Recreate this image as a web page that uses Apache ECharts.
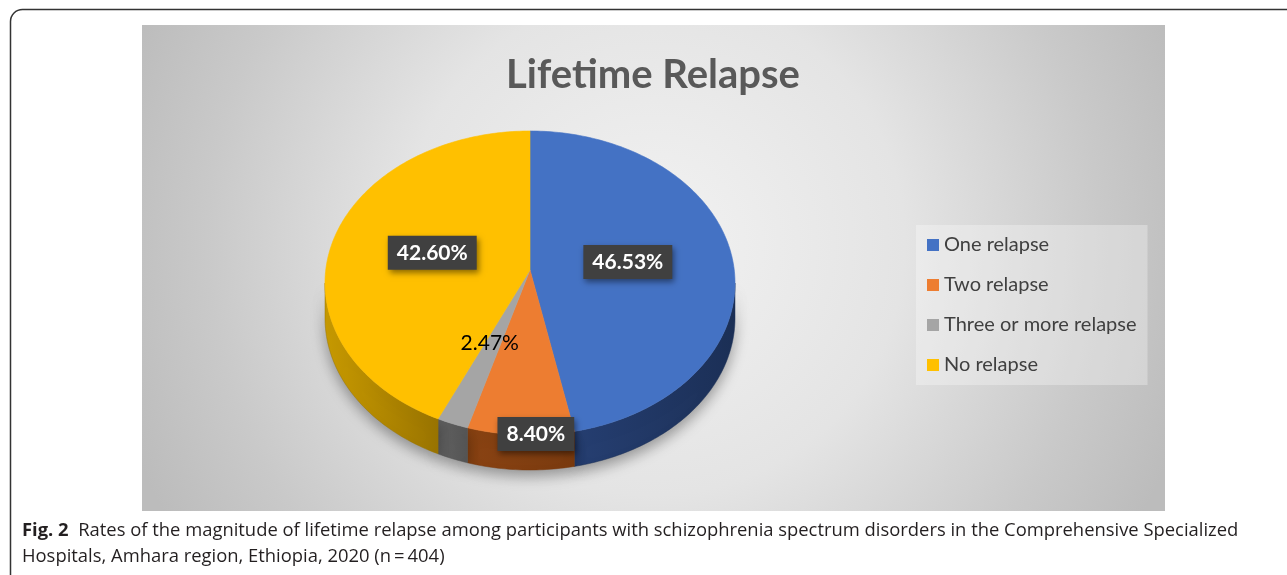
<!DOCTYPE html>
<html>
<head>
<meta charset="utf-8">
<script src="https://cdn.jsdelivr.net/npm/echarts@6/dist/echarts.min.js"></script>
<style>
html,body{margin:0;padding:0;background:#fff;}
#chart{width:1287px;height:575px;}
</style>
</head>
<body>
<div id="chart"></div>
<script>
// ---- data ----
const categories = ['One relapse', 'Two relapse', 'Three or more relapse', 'No relapse'];
const values = [46.53, 8.40, 2.47, 42.60];
const titleText = 'Lifetime Relapse';
const captionBold = 'Fig. 2';
const captionLine1 = 'Rates of the magnitude of lifetime relapse among participants with schizophrenia spectrum disorders in the Comprehensive Specialized';
const captionLine2 = 'Hospitals, Amhara region, Ethiopia, 2020 (n\u2009=\u2009404)';

// ---- styles ----
const topColors = ['#4472c4', '#ed7d31', '#a5a5a5', '#ffc000'];
const sideColors = [['#263f72', '#1c3057'], ['#8a4313', '#7a3a0e'], ['#626262', '#555555'], ['#c99b00', '#9a7400']];
const labelRadius = [0.48, 1.08, 0.52, 0.49];
const labelDx = [0, 16, 0, 0];
const labelBoxed = [true, true, false, true];

const geo = { cx: 530, cy: 283, apexY: 270, rx: 205, ry: 152, depth: 35 };
const total = values.reduce((a, b) => a + b, 0);

function pt(phi, dy) {
  return [geo.cx + geo.rx * Math.sin(phi), geo.cy - geo.ry * Math.cos(phi) + (dy || 0)];
}
function arc(a, b, dy) {
  const pts = [];
  const n = Math.max(2, Math.ceil(Math.abs(b - a) / (Math.PI / 180)));
  for (let k = 0; k <= n; k++) pts.push(pt(a + (b - a) * k / n, dy));
  return pts;
}

function renderItem(params, api) {
  const i = params.seriesIndex;
  let before = 0;
  for (let k = 0; k < i; k++) before += values[k];
  const start = before / total * Math.PI * 2;
  const end = start + api.value(0) / total * Math.PI * 2;
  const children = [];
  // side wall (front half only)
  const a = Math.max(start, Math.PI / 2), b = Math.min(end, Math.PI * 1.5);
  if (a < b) {
    const topArc = arc(a, b, 0);
    const botArc = arc(b, a, geo.depth);
    children.push({
      type: 'polygon',
      z2: 0,
      shape: { points: topArc.concat(botArc) },
      style: {
        fill: new echarts.graphic.LinearGradient(0, 0, 1, 0, [
          { offset: 0, color: sideColors[i][0] },
          { offset: 1, color: sideColors[i][1] }
        ]),
        stroke: sideColors[i][1], lineWidth: 0.5,
        shadowBlur: 14, shadowColor: 'rgba(0,0,0,0.35)', shadowOffsetY: 6
      }
    });
  }
  // top face
  children.push({
    type: 'polygon',
    z2: 10,
    shape: { points: [[geo.cx, geo.apexY]].concat(arc(start, end, 0)) },
    style: { fill: topColors[i], stroke: topColors[i], lineWidth: 0.6 }
  });
  // label
  const mid = (start + end) / 2;
  const f = labelRadius[i];
  const lx = geo.cx + f * geo.rx * Math.sin(mid) + labelDx[i];
  const ly = geo.apexY - f * geo.ry * Math.cos(mid);
  const txt = api.value(0).toFixed(2) + '%';
  const st = labelBoxed[i] ? {
    legacy: false,
    text: txt, x: lx, y: ly, align: 'center', verticalAlign: 'middle',
    fill: '#ffffff', font: 'bold 21px Lato',
    backgroundColor: '#404040', padding: [7, 9, 6, 9],
    shadowBlur: 6, shadowColor: 'rgba(0,0,0,0.45)', shadowOffsetX: 2, shadowOffsetY: 3
  } : {
    legacy: false,
    text: txt, x: lx, y: ly, align: 'center', verticalAlign: 'middle',
    fill: '#000000', font: '21px Lato'
  };
  children.push({ type: 'text', z2: 20, style: st });
  return { type: 'group', children: children };
}

const chart = echarts.init(document.getElementById('chart'), null, { renderer: 'canvas' });
chart.setOption({
  backgroundColor: '#ffffff',
  animation: false,
  title: {
    text: titleText, left: 648, top: 50, textAlign: 'center',
    textStyle: { fontFamily: 'Lato', fontWeight: 'bold', fontSize: 40, color: '#595959' }
  },
  legend: {
    orient: 'vertical', left: 916, top: 225,
    data: categories,
    icon: 'rect', itemWidth: 12, itemHeight: 12, itemGap: 20,
    padding: [10, 11, 10, 11],
    backgroundColor: 'rgba(255,255,255,0.3)',
    textStyle: { fontFamily: 'Lato', fontSize: 20, color: '#404040' },
    selectedMode: false
  },
  graphic: [
    {
      type: 'rect', silent: true,
      shape: { x: 10.5, y: 9.5, width: 1500, height: 800, r: 12 },
      style: { fill: 'none', stroke: '#333333', lineWidth: 1.5 }
    },
    {
      type: 'rect', silent: true,
      shape: { x: 142, y: 25, width: 1023, height: 486 },
      style: {
        fill: new echarts.graphic.RadialGradient(0.5, 0.45, 1.15, [
          { offset: 0, color: '#f2f2f2' },
          { offset: 0.45, color: '#e4e4e4' },
          { offset: 0.8, color: '#c9c9c9' },
          { offset: 1, color: '#bcbcbc' }
        ])
      }
    },
    {
      type: 'text', silent: true, left: 22, top: 522,
      style: {
        text: '{b|' + captionBold + '}  ' + captionLine1,
        font: '18.4px "Open Sans"', fill: '#231f20',
        rich: { b: { fontWeight: 'bold', fontFamily: 'Open Sans', fontSize: 18.4, fill: '#231f20' } }
      }
    },
    {
      type: 'text', silent: true, left: 22, top: 548,
      style: { text: captionLine2, font: '18.4px "Open Sans"', fill: '#231f20' }
    }
  ],
  series: categories.map((c, i) => ({
    type: 'custom', name: c, coordinateSystem: 'none',
    itemStyle: { color: topColors[i] },
    data: [values[i]],
    renderItem: renderItem
  }))
});
</script>
</body>
</html>
